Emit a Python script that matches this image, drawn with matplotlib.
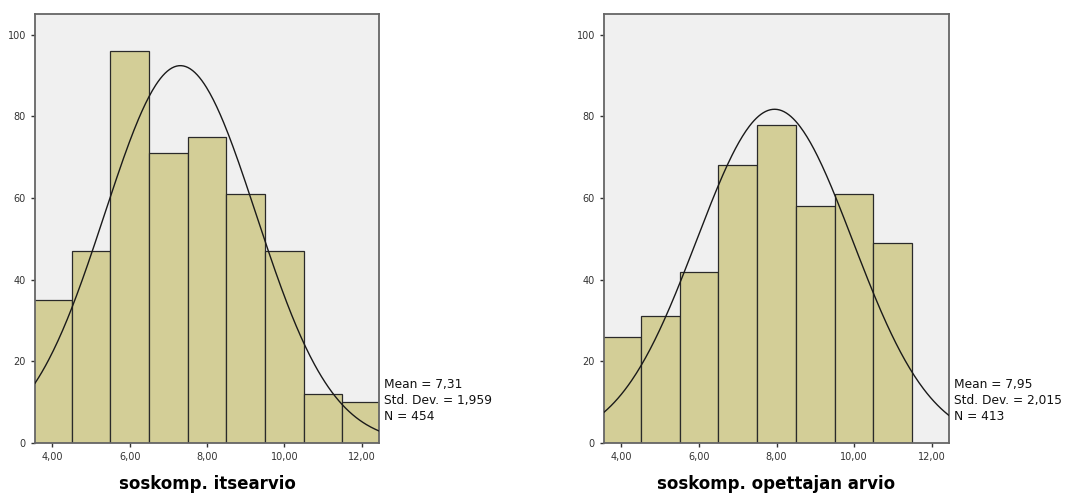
import matplotlib
matplotlib.use("Agg")
import matplotlib.pyplot as plt
import numpy as np

# bin centres and counts
bins_left = [4, 5, 6, 7, 8, 9, 10, 11, 12]
counts_left = [35, 47, 96, 71, 75, 61, 47, 12, 10]
bins_right = [4, 5, 6, 7, 8, 9, 10, 11]
counts_right = [26, 31, 42, 68, 78, 58, 61, 49]

stats_left = {"mean": 7.31, "sd": 1.959, "n": 454}
stats_right = {"mean": 7.95, "sd": 2.015, "n": 413}

titles = ["soskomp. itsearvio", "soskomp. opettajan arvio"]
xticks = [4, 6, 8, 10, 12]
yticks = [0, 20, 40, 60, 80, 100]

plt.rcParams["font.family"] = ["DejaVu Sans"]


def comma(v, d):
    return ("{:." + str(d) + "f}").format(v).replace(".", ",")


def panel(ax, bins, counts, st, title):
    ax.set_facecolor("#f0f0f0")
    ax.bar(bins, counts, width=1.0, color="#d3ce97", edgecolor="#2a2a2a", linewidth=0.9, zorder=2)
    xs = np.linspace(3.55, 12.45, 300)
    ys = st["n"] / (st["sd"] * np.sqrt(2 * np.pi)) * np.exp(-0.5 * ((xs - st["mean"]) / st["sd"]) ** 2)
    ax.plot(xs, ys, color="#1a1a1a", linewidth=1.0, zorder=3)
    ax.set_xlim(3.55, 12.45)
    ax.set_ylim(0, 105.1)
    ax.set_xticks(xticks)
    ax.set_xticklabels([comma(t, 2) for t in xticks])
    ax.set_yticks(yticks)
    ax.tick_params(labelsize=7, length=3, width=1, color="#333333", labelcolor="#333333")
    for s in ax.spines.values():
        s.set_color("#666666")
        s.set_linewidth(1.3)
    ax.set_xlabel(title, fontsize=12, fontweight="bold", labelpad=9)
    txt = "Mean = {}\nStd. Dev. = {}\nN = {}".format(comma(st["mean"], 2), comma(st["sd"], 3), st["n"])
    ax.text(1.015, 0.10, txt, transform=ax.transAxes, fontsize=8.8, va="center", ha="left",
            linespacing=1.3, color="#111111")


fig = plt.figure(figsize=(10.74, 4.94), dpi=100)
ax1 = fig.add_axes([0.0326, 0.1032, 0.3203, 0.8684])
ax2 = fig.add_axes([0.5624, 0.1032, 0.3212, 0.8684])
panel(ax1, bins_left, counts_left, stats_left, titles[0])
panel(ax2, bins_right, counts_right, stats_right, titles[1])

fig.savefig("out.png", dpi=100)
